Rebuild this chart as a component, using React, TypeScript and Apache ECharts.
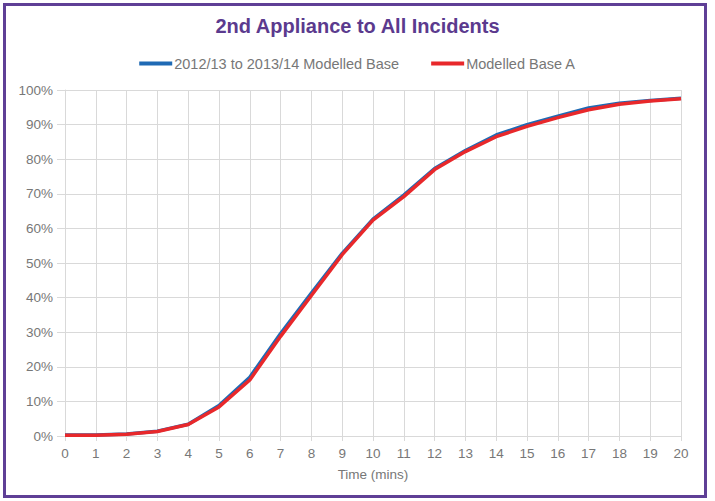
import React, { useEffect, useRef } from "react";
import * as echarts from "echarts";

const minutes = [0, 1, 2, 3, 4, 5, 6, 7, 8, 9, 10, 11, 12, 13, 14, 15, 16, 17, 18, 19, 20];
const baseline = [0.3, 0.3, 0.6, 1.4, 3.4, 8.8, 17.0, 29.6, 41.3, 52.8, 62.7, 69.6, 77.3, 82.5, 87.0, 90.0, 92.4, 94.8, 96.2, 97.0, 97.6];
const modelledA = [0.2, 0.2, 0.5, 1.3, 3.3, 8.4, 16.2, 28.8, 40.6, 52.4, 62.4, 69.2, 77.0, 82.2, 86.5, 89.5, 92.0, 94.3, 95.9, 96.8, 97.5];
const seriesNames = ["2012/13 to 2013/14 Modelled Base", "Modelled Base A"];

export default function App() {
  const ref = useRef<HTMLDivElement>(null);
  useEffect(() => {
    document.body.style.margin = "0";
    const chart = echarts.init(ref.current!, null, { renderer: "svg" });
    const font = "Liberation Sans, Arial, sans-serif";
    chart.setOption({
      animation: false,
      backgroundColor: "#ffffff",
      title: {
        text: "2nd Appliance to All Incidents",
        left: "center",
        top: 11,
        textStyle: { color: "#5B3A8E", fontSize: 20, fontWeight: "bold", fontFamily: font },
      },
      legend: {
        top: 51,
        left: "center",
        itemGap: 32,
        itemWidth: 33,
        itemHeight: 4,
        icon: "rect",
        textStyle: { color: "#777777", fontSize: 14.5, fontFamily: font, padding: [0, 0, 0, -3] },
        data: seriesNames,
      },
      grid: { left: 65, right: 34, top: 90, bottom: 65 },
      xAxis: {
        type: "value",
        min: 0,
        max: 20,
        interval: 1,
        name: "Time (mins)",
        nameLocation: "middle",
        nameGap: 31,
        nameTextStyle: { color: "#777777", fontSize: 13.5, fontFamily: font },
        axisLine: { lineStyle: { color: "#d9d9d9" } },
        axisTick: { show: true, length: 5, lineStyle: { color: "#d9d9d9" } },
        axisLabel: { color: "#777777", fontSize: 13.5, fontFamily: font, margin: 10 },
        splitLine: { show: true, lineStyle: { color: "#d9d9d9" } },
      },
      yAxis: {
        type: "value",
        min: 0,
        max: 100,
        interval: 10,
        axisLine: { show: true, lineStyle: { color: "#d9d9d9" } },
        axisTick: { show: true, length: 8, lineStyle: { color: "#d9d9d9" } },
        axisLabel: { color: "#777777", fontSize: 13.5, fontFamily: font, margin: 12, formatter: "{value}%" },
        splitLine: { show: true, lineStyle: { color: "#d9d9d9" } },
      },
      series: [
        {
          name: seriesNames[0],
          type: "line",
          data: minutes.map((m, i) => [m, baseline[i]]),
          showSymbol: false,
          symbol: "none",
          itemStyle: { color: "#1F6AB4" },
          lineStyle: { color: "#1F6AB4", width: 3.5 },
        },
        {
          name: seriesNames[1],
          type: "line",
          data: minutes.map((m, i) => [m, modelledA[i]]),
          showSymbol: false,
          symbol: "none",
          itemStyle: { color: "#E8282B" },
          lineStyle: { color: "#E8282B", width: 3.5 },
        },
      ],
      graphic: [
        {
          type: "rect",
          shape: { x: 4.5, y: 4.5, width: 701, height: 492 },
          style: { fill: "none", stroke: "#5F3F96", lineWidth: 3 },
          silent: true,
          z: 100,
        },
      ],
    });
    return () => chart.dispose();
  }, []);
  return <div ref={ref} style={{ width: 715, height: 501, position: "absolute", left: 0, top: 0 }} />;
}
